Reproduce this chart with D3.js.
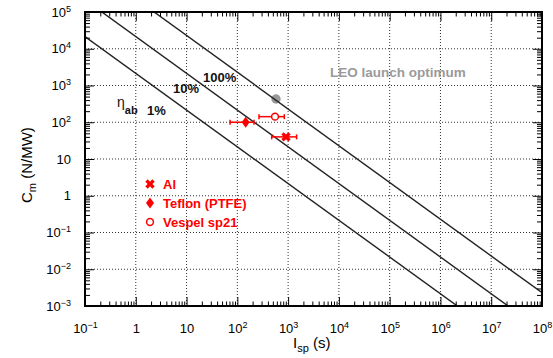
<!DOCTYPE html>
<html>
<head>
<meta charset="utf-8">
<script src="https://cdn.jsdelivr.net/npm/d3@7"></script>
<style>
  body { margin: 0; background: #fff; }
  svg text { font-family: "Liberation Sans", Arial, Helvetica, sans-serif; }
</style>
</head>
<body>
<div id="chart"></div>
<script>
// samples measured (Isp in s, Cm in N/MW)
const samples = ['Al', 'Teflon (PTFE)', 'Vespel sp21'];
const markerTypes = ['cross', 'diamond', 'circle'];
const ispVal = [910, 146, 552];
const ispLow = [475, 72, 267];
const ispHigh = [1470, 213, 841];
const cmVal = [40, 100, 142];

// LEO launch optimum point
const leoIsp = [577];
const leoCm = [430];

// constant efficiency lines: Cm * Isp = product
const etaLabels = ['1%', '10%', '100%'];
const etaProducts = [2.15e3, 2.15e4, 2.3e5];

// axis ticks
const xMajors = [1e-1, 1, 10, 1e2, 1e3, 1e4, 1e5, 1e6, 1e7, 1e8];
const yMajors = [1e-3, 1e-2, 1e-1, 1, 10, 1e2, 1e3, 1e4, 1e5];

const width = 553;
const height = 358;
const margin = { top: 12, right: 11, bottom: 52, left: 85 };
const innerW = width - margin.left - margin.right;
const innerH = height - margin.top - margin.bottom;

const svg = d3.select('#chart').append('svg')
    .attr('width', width)
    .attr('height', height);

const g = svg.append('g')
    .attr('transform', 'translate(' + margin.left + ',' + margin.top + ')');

const x = d3.scaleLog().domain([1e-1, 1e8]).range([0, innerW]);
const y = d3.scaleLog().domain([1e-3, 1e5]).range([innerH, 0]);

// minor ticks 2..9 in every decade
function minors(lo, hi) {
    const out = [];
    for (let e = lo; e < hi; e++) {
        for (let k = 2; k <= 9; k++) out.push(k * Math.pow(10, e));
    }
    return out;
}
const xMinors = minors(-1, 8);
const yMinors = minors(-3, 5);

// dotted grid
g.append('g').selectAll('line')
    .data(xMajors.slice(1, -1))
    .join('line')
    .attr('x1', d => x(d)).attr('x2', d => x(d))
    .attr('y1', 0).attr('y2', innerH)
    .attr('stroke', '#333').attr('stroke-width', 1)
    .attr('stroke-dasharray', '1,2');
g.append('g').selectAll('line')
    .data(yMajors.slice(1, -1))
    .join('line')
    .attr('y1', d => y(d)).attr('y2', d => y(d))
    .attr('x1', 0).attr('x2', innerW)
    .attr('stroke', '#333').attr('stroke-width', 1)
    .attr('stroke-dasharray', '1,2');

// clip for lines
svg.append('defs').append('clipPath').attr('id', 'plotclip')
    .append('rect').attr('width', innerW).attr('height', innerH);

// LEO point (below lines)
g.append('g').selectAll('circle')
    .data(leoIsp)
    .join('circle')
    .attr('cx', d => x(d))
    .attr('cy', (d, i) => y(leoCm[i]))
    .attr('r', 4.7)
    .attr('fill', '#9a9a9a');

// efficiency lines
const line = d3.line().x(d => x(d[0])).y(d => y(d[1]));
g.append('g').attr('clip-path', 'url(#plotclip)')
    .selectAll('path')
    .data(etaProducts)
    .join('path')
    .attr('d', p => line([[1e-3, p / 1e-3], [1e9, p / 1e9]]))
    .attr('fill', 'none')
    .attr('stroke', '#222')
    .attr('stroke-width', 1.4);

// axes with inward ticks on all four sides
function styleAxis(sel) {
    sel.select('.domain').remove();
    sel.selectAll('.tick line').attr('stroke', '#000').attr('stroke-width', 1);
}
g.append('g').attr('transform', 'translate(0,' + innerH + ')')
    .call(d3.axisBottom(x).tickValues(xMinors).tickSize(-4.5).tickFormat(''))
    .call(styleAxis);
const xAxis = g.append('g').attr('transform', 'translate(0,' + innerH + ')')
    .call(d3.axisBottom(x).tickValues(xMajors).tickSize(-9).tickPadding(18))
    .call(styleAxis);
g.append('g')
    .call(d3.axisTop(x).tickValues(xMinors).tickSize(-4.5).tickFormat(''))
    .call(styleAxis);
g.append('g')
    .call(d3.axisTop(x).tickValues(xMajors).tickSize(-9).tickFormat(''))
    .call(styleAxis);

g.append('g')
    .call(d3.axisLeft(y).tickValues(yMinors).tickSize(-5).tickFormat(''))
    .call(styleAxis);
const yAxis = g.append('g')
    .call(d3.axisLeft(y).tickValues(yMajors).tickSize(-9).tickPadding(14))
    .call(styleAxis);
g.append('g').attr('transform', 'translate(' + innerW + ',0)')
    .call(d3.axisRight(y).tickValues(yMinors).tickSize(-5).tickFormat(''))
    .call(styleAxis);
g.append('g').attr('transform', 'translate(' + innerW + ',0)')
    .call(d3.axisRight(y).tickValues(yMajors).tickSize(-9).tickFormat(''))
    .call(styleAxis);

// power-of-ten tick labels
function powLabel(textSel) {
    textSel.each(function(d) {
        const t = d3.select(this);
        const e = Math.round(Math.log10(d));
        t.text(null).attr('font-size', 13).attr('fill', '#000');
        if (e === 0) { t.append('tspan').text('1'); return; }
        if (e === 1) { t.append('tspan').text('10'); return; }
        t.append('tspan').text('10');
        t.append('tspan').attr('dy', '-0.55em').attr('font-size', 9)
            .text(e < 0 ? '\u2212' + (-e) : e);
    });
}
xAxis.selectAll('.tick text').call(powLabel);
yAxis.selectAll('.tick text').call(powLabel);

// frame
g.append('rect')
    .attr('width', innerW).attr('height', innerH)
    .attr('fill', 'none').attr('stroke', '#000').attr('stroke-width', 2);

// error bars
const eb = g.append('g').attr('stroke', '#ff0000').attr('stroke-width', 1.5);
samples.forEach((s, i) => {
    const cy = y(cmVal[i]);
    eb.append('line').attr('x1', x(ispLow[i])).attr('x2', x(ispHigh[i]))
        .attr('y1', cy).attr('y2', cy);
    [ispLow[i], ispHigh[i]].forEach(v => {
        eb.append('line').attr('x1', x(v)).attr('x2', x(v))
            .attr('y1', cy - 2.5).attr('y2', cy + 2.5);
    });
});

// marker drawing
function drawMarker(sel, type) {
    if (type === 'cross') {
        sel.append('path')
            .attr('d', d3.symbol(d3.symbolCross, 55)())
            .attr('transform', 'rotate(45)')
            .attr('fill', '#ff0000');
    } else if (type === 'diamond') {
        sel.append('path')
            .attr('d', 'M0,-5.5L4,0L0,5.5L-4,0Z')
            .attr('fill', '#ff0000');
    } else {
        sel.append('circle').attr('r', 3.4)
            .attr('fill', '#fff').attr('stroke', '#ff0000').attr('stroke-width', 1.5);
    }
}

samples.forEach((s, i) => {
    const m = g.append('g')
        .attr('transform', 'translate(' + x(ispVal[i]) + ',' + y(cmVal[i]) + ')');
    drawMarker(m, markerTypes[i]);
});

// legend
const legend = svg.append('g').attr('transform', 'translate(150,184)');
samples.forEach((s, i) => {
    const row = legend.append('g').attr('transform', 'translate(0,' + (i * 19) + ')');
    drawMarker(row, markerTypes[i]);
    row.append('text').attr('x', 13).attr('y', 5)
        .attr('font-size', 13).attr('font-weight', 'bold')
        .attr('fill', '#ff0000').text(s);
});

// efficiency labels
const labPos = [[147, 115], [173, 93], [203, 82]];
etaLabels.forEach((l, i) => {
    svg.append('text').attr('x', labPos[i][0]).attr('y', labPos[i][1])
        .attr('font-size', 13).attr('font-weight', 'bold').attr('fill', '#111')
        .text(l);
});
const eta = svg.append('text').attr('x', 117).attr('y', 107)
    .attr('font-size', 14).attr('fill', '#111');
eta.append('tspan').text('\u03b7');
eta.append('tspan').attr('dy', 7).attr('font-size', 11).attr('font-weight', 'bold').text('ab');

svg.append('text').attr('x', 330).attr('y', 77)
    .attr('font-size', 13.5).attr('font-weight', 'bold').attr('fill', '#9a9a9a')
    .text('LEO launch optimum');

// axis titles
const xt = svg.append('text').attr('x', 293).attr('y', 348)
    .attr('font-size', 15).attr('fill', '#000');
xt.append('tspan').text('I');
xt.append('tspan').attr('dy', 4).attr('font-size', 11).text('sp');
xt.append('tspan').attr('dy', -4).text(' (s)');

const yt = svg.append('text')
    .attr('transform', 'translate(32,203) rotate(-90)')
    .attr('font-size', 15).attr('fill', '#000');
yt.append('tspan').text('C');
yt.append('tspan').attr('dy', 4).attr('font-size', 11).text('m');
yt.append('tspan').attr('dy', -4).text(' (N/MW)');
</script>
</body>
</html>
